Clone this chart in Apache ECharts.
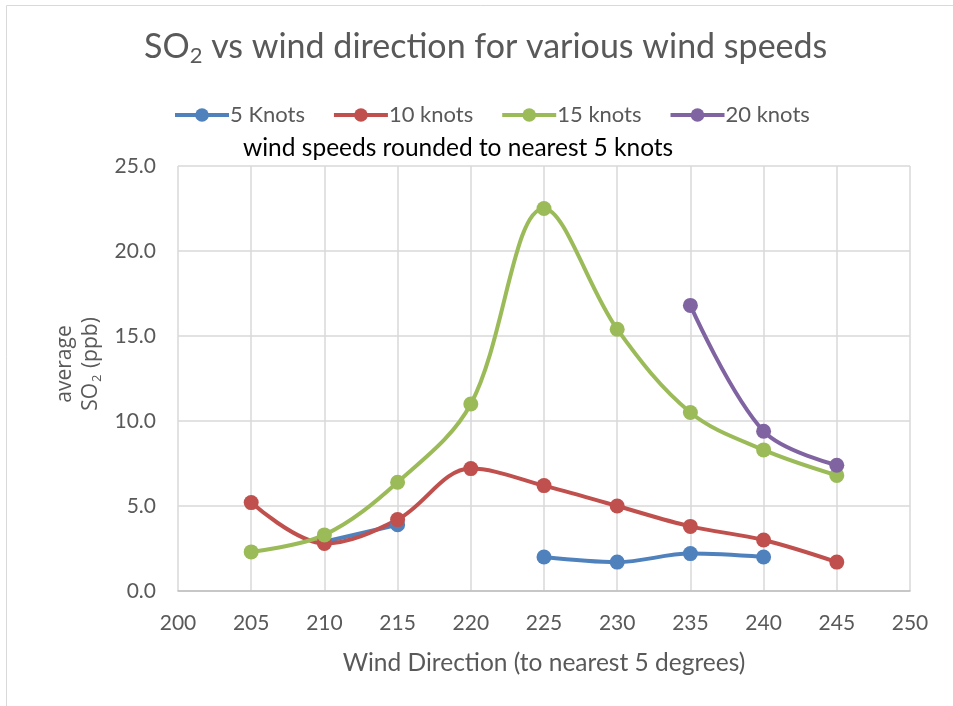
<!DOCTYPE html>
<html>
<head>
<meta charset="utf-8">
<script src="https://cdn.jsdelivr.net/npm/echarts@6/dist/echarts.min.js"></script>
<style>
  html, body { margin: 0; padding: 0; background: #fff; }
  #chart { width: 953px; height: 706px; }
</style>
</head>
<body>
<div id="chart"></div>
<script>
// Wind direction (degrees, rounded to nearest 5)
const directions = [205, 210, 215, 220, 225, 230, 235, 240, 245];

// Average SO2 (ppb) per wind speed band; null = no observations
const knots5  = [null, 2.9, 3.9, null, 2.0, 1.7, 2.2, 2.0, null];
const knots10 = [5.2, 2.8, 4.2, 7.2, 6.2, 5.0, 3.8, 3.0, 1.7];
const knots15 = [2.3, 3.3, 6.4, 11.0, 22.5, 15.4, 10.5, 8.3, 6.8];
const knots20 = [null, null, null, null, null, null, 16.8, 9.4, 7.4];

const seriesNames = ['5 Knots', '10 knots', '15 knots', '20 knots'];
const seriesColors = ['#4F81BD', '#C0504D', '#9BBB59', '#8064A2'];

const FONT = 'Lato, "Open Sans", sans-serif';
const SANS = '"Open Sans", sans-serif';
const GREY = '#595959';

// Pair each value with its direction; trim leading/trailing empties, keep interior gaps
function toPairs(values) {
  const pts = directions.map((d, i) => [d, values[i] == null ? '-' : values[i]]);
  let a = 0, b = pts.length - 1;
  while (a <= b && pts[a][1] === '-') a++;
  while (b >= a && pts[b][1] === '-') b--;
  return pts.slice(a, b + 1);
}

const allValues = [knots5, knots10, knots15, knots20];

const chart = echarts.init(document.getElementById('chart'));
chart.setOption({
  backgroundColor: '#ffffff',
  animation: false,
  textStyle: { fontFamily: FONT },
  graphic: [
    {
      type: 'rect',
      shape: { x: 6.5, y: 5.5, width: 960, height: 720 },
      style: { fill: 'none', stroke: '#D9D9D9', lineWidth: 1 },
      silent: true
    },
    {
      type: 'text',
      left: 144,
      top: 30,
      style: {
        text: '{a|SO}{s|2}{a| vs wind direction for various wind speeds}',
        rich: {
          a: { fontSize: 34, fill: GREY, fontFamily: FONT },
          s: { fontSize: 22, fill: GREY, fontFamily: FONT, padding: [17, 0, 0, 0] }
        }
      }
    },
    {
      type: 'text',
      left: 243,
      top: 136,
      style: { text: 'wind speeds rounded to nearest 5 knots', fontSize: 24.5, fill: '#000', fontFamily: FONT }
    },
    // Vertical axis title, two lines reading bottom to top
    {
      type: 'text',
      x: 78,
      y: 364,
      rotation: Math.PI / 2,
      silent: true,
      style: {
        text: '{a|average}\n{a|SO}{s|2}{a| (ppb)}',
        align: 'center',
        verticalAlign: 'middle',
        fontFamily: SANS,
        fontSize: 21,
        fill: GREY,
        rich: {
          a: { fontSize: 21, fill: GREY, fontFamily: SANS, lineHeight: 26, align: 'center' },
          s: { fontSize: 13, fill: GREY, fontFamily: SANS, lineHeight: 26, padding: [12, 1, 0, 1] }
        }
      }
    }
  ],
  legend: {
    top: 99,
    left: 168,
    itemGap: 27,
    itemWidth: 54,
    itemHeight: 17,
    lineStyle: { width: 4 },
    textStyle: { fontSize: 22, color: GREY, fontFamily: FONT, padding: [0, 0, 0, -4] },
    data: seriesNames
  },
  grid: { left: 178, right: 43, top: 166, bottom: 115 },
  xAxis: {
    type: 'value',
    min: 200,
    max: 250,
    interval: 5,
    name: 'Wind Direction (to nearest 5 degrees)',
    nameLocation: 'middle',
    nameGap: 60,
    nameTextStyle: { fontSize: 24.5, color: GREY, fontFamily: FONT },
    axisLine: { lineStyle: { color: '#BFBFBF', width: 1.5 } },
    axisTick: { show: false },
    axisLabel: { fontSize: 21, color: GREY, margin: 22, fontFamily: FONT },
    splitLine: { show: true, lineStyle: { color: '#D9D9D9', width: 1.5 } }
  },
  yAxis: {
    type: 'value',
    min: 0,
    max: 25,
    interval: 5,
    axisLine: { show: false },
    axisTick: { show: false },
    axisLabel: { fontSize: 21, color: GREY, margin: 22, fontFamily: FONT, formatter: v => v.toFixed(1) },
    splitLine: { show: true, lineStyle: { color: '#D9D9D9', width: 1.5 } }
  },
  series: seriesNames.map((name, i) => ({
    name,
    type: 'line',
    smooth: 0.35,
    symbol: 'circle',
    symbolSize: 15,
    connectNulls: false,
    color: seriesColors[i],
    lineStyle: { width: 4, color: seriesColors[i] },
    itemStyle: { color: seriesColors[i] },
    data: toPairs(allValues[i])
  }))
});
</script>
</body>
</html>
